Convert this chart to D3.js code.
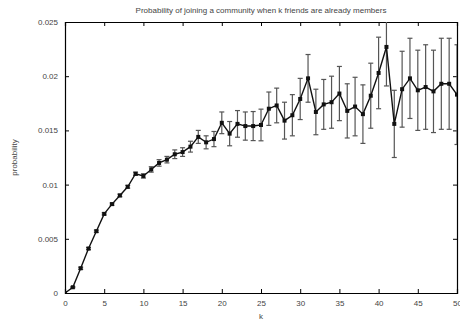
<!DOCTYPE html>
<html>
<head>
<meta charset="utf-8">
<script src="https://cdn.jsdelivr.net/npm/d3@7"></script>
<style>
  html, body { margin: 0; padding: 0; background: #fff; }
  svg { display: block; font-family: "Liberation Sans", Arial, sans-serif; }
</style>
</head>
<body>
<svg id="chart" width="460" height="322"></svg>
<script>
const title = "Probability of joining a community when k friends are already members";
const xLabel = "k";
const yLabel = "probability";
const kValues = [0,1,2,3,4,5,6,7,8,9,10,11,12,13,14,15,16,17,18,19,20,21,22,23,24,25,26,27,28,29,30,31,32,33,34,35,36,37,38,39,40,41,42,43,44,45,46,47,48,49,50];
const probability = [0,0.00053,0.00228,0.0041,0.0057,0.0073,0.0082,0.0090,0.0098,0.0110,0.0108,0.0114,0.0120,0.0123,0.0128,0.0130,0.0135,0.0144,0.0139,0.0142,0.0157,0.0147,0.0156,0.0154,0.0154,0.0155,0.0170,0.0173,0.0159,0.0164,0.0179,0.0198,0.0167,0.0174,0.0176,0.0184,0.0168,0.0172,0.0165,0.0182,0.0203,0.0227,0.0156,0.0188,0.0198,0.0187,0.0190,0.0186,0.0193,0.0193,0.0183];
const errorHalf = [0,0.00005,0.0001,0.0001,0.0001,0.0001,0.0001,0.00012,0.00013,0.00015,0.0002,0.00025,0.0003,0.0003,0.0004,0.0004,0.0005,0.0006,0.0006,0.0007,0.0010,0.00112,0.00123,0.0013,0.00134,0.00146,0.00154,0.0016,0.0017,0.0019,0.0019,0.0022,0.0021,0.0023,0.0024,0.0025,0.0025,0.0027,0.0027,0.0030,0.0033,0.0036,0.0031,0.0035,0.0037,0.0037,0.0039,0.0038,0.0042,0.0042,0.0046];
const xTicks = [0,5,10,15,20,25,30,35,40,45,50];
const yTicks = [0,0.005,0.01,0.015,0.02,0.025];
const yTickLabels = ["0","0.005","0.01","0.015","0.02","0.025"];

(function () {
const svg = d3.select("#chart");
const mLeft = 65, mRight = 457, mTop = 22, mBottom = 293;
const x = d3.scaleLinear().domain([0, 50]).range([mLeft, mRight]);
const y = d3.scaleLinear().domain([0, 0.025]).range([mBottom, mTop]);
const textColor = "#444";
const tickLen = 4;

svg.append("defs").append("clipPath").attr("id", "plotclip")
  .append("rect").attr("x", mLeft).attr("y", mTop).attr("width", mRight - mLeft).attr("height", mBottom - mTop);

// Title
svg.append("text").attr("x", (mLeft + mRight) / 2).attr("y", 13)
  .attr("text-anchor", "middle").attr("font-size", 8).attr("fill", textColor).text(title);

// Axes with inward ticks
const gBottom = svg.append("g").attr("transform", `translate(0,${mBottom})`)
  .call(d3.axisBottom(x).tickValues(xTicks).tickSize(-tickLen).tickPadding(7).tickFormat(d3.format("d")));
const gTop = svg.append("g").attr("transform", `translate(0,${mTop})`)
  .call(d3.axisTop(x).tickValues(xTicks).tickSize(-tickLen).tickFormat(""));
const gLeft = svg.append("g").attr("transform", `translate(${mLeft},0)`)
  .call(d3.axisLeft(y).tickValues(yTicks).tickSize(-tickLen).tickPadding(7).tickFormat((d, i) => yTickLabels[i]));
const gRight = svg.append("g").attr("transform", `translate(${mRight},0)`)
  .call(d3.axisRight(y).tickValues(yTicks).tickSize(-tickLen).tickFormat(""));

[gBottom, gTop, gLeft, gRight].forEach(g => {
  g.select(".domain").attr("stroke", "#000").attr("stroke-width", 1.2);
  g.selectAll(".tick line").attr("stroke", "#000").attr("stroke-width", 1);
  g.selectAll(".tick text").attr("font-size", 8).attr("fill", textColor)
    .attr("font-family", "'Liberation Sans', Arial, sans-serif");
});

// Axis labels
svg.append("text").attr("x", (mLeft + mRight) / 2).attr("y", 319)
  .attr("text-anchor", "middle").attr("font-size", 8).attr("fill", textColor).text(xLabel);
svg.append("text").attr("transform", `translate(17,${(mTop + mBottom) / 2}) rotate(-90)`)
  .attr("text-anchor", "middle").attr("font-size", 8).attr("fill", textColor).text(yLabel);

const data = kValues.map((k, i) => ({ k, v: probability[i], e: errorHalf[i] }));
const plot = svg.append("g").attr("clip-path", "url(#plotclip)");

// Error bars
const eb = plot.append("g").attr("stroke", "#555").attr("stroke-width", 1.2);
const capW = 2.5;
data.filter(d => d.e > 0).forEach(d => {
  const cx = x(d.k), y1 = y(d.v + d.e), y2 = y(d.v - d.e);
  eb.append("line").attr("x1", cx).attr("x2", cx).attr("y1", y1).attr("y2", y2);
  eb.append("line").attr("x1", cx - capW).attr("x2", cx + capW).attr("y1", y1).attr("y2", y1);
  eb.append("line").attr("x1", cx - capW).attr("x2", cx + capW).attr("y1", y2).attr("y2", y2);
});

// Line
plot.append("path").datum(data)
  .attr("fill", "none").attr("stroke", "#111").attr("stroke-width", 1.4)
  .attr("d", d3.line().x(d => x(d.k)).y(d => y(d.v)));

// Markers
plot.append("g").selectAll("rect").data(data).join("rect")
  .attr("x", d => x(d.k) - 2).attr("y", d => y(d.v) - 2)
  .attr("width", 4).attr("height", 4).attr("fill", "#111");
})();
</script>
</body>
</html>
